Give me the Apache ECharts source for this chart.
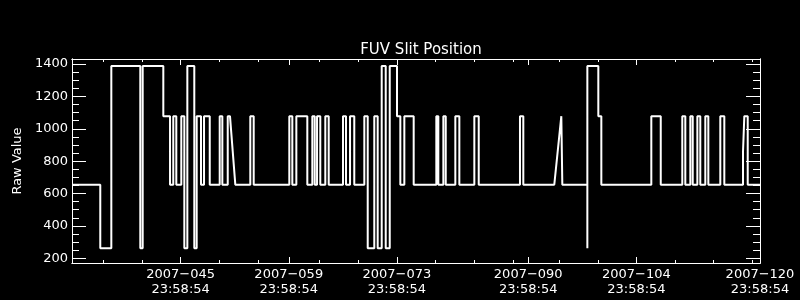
<!DOCTYPE html>
<html><head><meta charset="utf-8">
<script src="https://cdn.jsdelivr.net/npm/echarts@6/dist/echarts.min.js"></script>
<style>html,body{margin:0;padding:0;background:#000;}#c{width:800px;height:300px;}</style>
</head><body><div id="c"></div>
<script>
// Time in fractional day-of-year 2007, value = raw slit position
const days = [
31.94,35.60,35.60,37.03,37.03,40.78,40.78,41.09,41.09,43.76,43.76,44.63,44.63,45.05,45.05,45.44,45.44,46.09,46.09,46.48,
46.48,46.87,46.87,47.77,47.77,48.08,48.08,48.64,48.64,49.03,49.03,49.77,49.77,51.06,51.06,51.40,51.40,52.10,52.10,52.39,
53.08,55.02,55.02,55.46,55.46,60.07,60.07,60.46,60.46,60.98,60.98,62.40,62.40,63.05,63.05,63.36,63.36,63.66,63.66,64.08,
64.08,64.73,64.73,65.17,65.17,67.02,67.02,67.41,67.41,67.93,67.93,68.48,68.48,69.78,69.78,70.22,70.22,71.07,71.07,71.51,
71.51,72.03,72.03,72.55,72.55,73.07,73.07,74.01,74.01,74.44,74.44,74.96,74.96,76.17,76.17,79.10,79.10,79.36,79.36,80.01,
80.01,80.32,80.32,81.56,81.56,82.08,82.08,84.02,84.02,84.59,84.59,89.93,89.93,90.36,90.36,94.37,95.28,95.41,95.41,98.65,
98.65,98.65,100.07,100.07,100.46,100.46,106.93,106.93,108.15,108.15,110.94,110.94,111.33,111.33,111.98,111.98,112.29,112.29,112.89,112.89,
113.27,113.27,113.92,113.92,114.31,114.31,115.86,115.86,116.38,116.38,118.80,118.80,118.97,118.97,119.41,119.41,120.999
];
const rawValues = [
655,655,262,262,1388,1388,262,262,1388,1388,1078,1078,655,655,1078,1078,655,655,1078,1078,
262,262,1388,1388,262,262,1078,1078,655,655,1078,1078,655,655,1078,1078,655,655,1078,1078,
655,655,1078,1078,655,655,1078,1078,655,655,1078,1078,655,655,1078,1078,655,655,1078,1078,
655,655,1078,1078,655,655,1078,1078,655,655,1078,1078,655,655,1078,1078,262,262,1078,1078,
262,262,1388,1388,262,262,1388,1388,1078,1078,655,655,1078,1078,655,655,1078,1078,655,655,
1078,1078,655,655,1078,1078,655,655,1078,1078,655,655,1078,1078,655,655,1078,1078,655,655,
262,1388,1388,1078,1078,655,655,1078,1078,655,655,1078,1078,655,655,1078,1078,655,655,1078,
1078,655,655,1078,1078,655,655,1078,1078,655,655,858,858,1078,1078,655,655
];
const xMajorTicks = [45.999, 59.999, 73.999, 90.999, 104.999, 120.999];
const xTickLabels = ['2007\u2212045\n23:58:54','2007\u2212059\n23:58:54','2007\u2212073\n23:58:54','2007\u2212090\n23:58:54','2007\u2212104\n23:58:54','2007\u2212120\n23:58:54'];
const xMinorTicks = [35.999,40.999,50.999,55.999,63.999,68.999,78.999,83.999,88.999,94.999,99.999,109.999,114.999,119.999];
const yMajorTicks = [200,400,600,800,1000,1200,1400];
const yMinorTicks = [250,300,350,450,500,550,650,700,750,850,900,950,1050,1100,1150,1250,1300,1350];
const X_MIN = 31.94, X_MAX = 120.999, Y_MIN = 171, Y_MAX = 1431;

const FONT = 'DejaVu Sans';
const W = '#ffffff';
function xAx(pos, ticks, len, labels) {
  return {
    type: 'value', position: pos, min: X_MIN, max: X_MAX,
    axisLine: { show: true, onZero: false, lineStyle: { color: W, width: 1 } },
    axisTick: { show: true, inside: true, length: len, customValues: ticks, lineStyle: { color: W, width: 1 } },
    axisLabel: labels ? {
      show: true, customValues: ticks, color: W, fontFamily: FONT, fontSize: 13, lineHeight: 15, margin: 4,
      formatter: v => { const i = xMajorTicks.findIndex(t => Math.abs(t - v) < 1e-6); return i >= 0 ? xTickLabels[i] : ''; }
    } : { show: false },
    splitLine: { show: false }
  };
}
function yAx(pos, ticks, len, labels, name) {
  return {
    type: 'value', position: pos, min: Y_MIN, max: Y_MAX,
    name: name || '', nameLocation: 'middle', nameRotate: 90, nameGap: 46,
    nameTextStyle: { color: W, fontFamily: FONT, fontSize: 13 },
    axisLine: { show: true, onZero: false, lineStyle: { color: W, width: 1 } },
    axisTick: { show: true, inside: true, length: len, customValues: ticks, lineStyle: { color: W, width: 1 } },
    axisLabel: labels ? { show: true, customValues: ticks, color: W, fontFamily: FONT, fontSize: 13, margin: 4,
      formatter: v => String(v) } : { show: false },
    splitLine: { show: false }
  };
}
const chart = echarts.init(document.getElementById('c'), null, { renderer: 'canvas' });
chart.setOption({
  backgroundColor: '#000',
  animation: false,
  title: { text: 'FUV Slit Position', left: 416, textAlign: 'center', top: 38,
    textStyle: { color: W, fontFamily: FONT, fontSize: 15, fontWeight: 'normal' } },
  grid: { left: 72, right: 40, top: 59, bottom: 37, containLabel: false },
  xAxis: [ xAx('bottom', xMajorTicks, 6, true), xAx('bottom', xMinorTicks, 3, false),
           xAx('top', xMajorTicks, 6, false), xAx('top', xMinorTicks, 3, false) ],
  yAxis: [ yAx('left', yMajorTicks, 14, true, 'Raw Value'), yAx('left', yMinorTicks, 7, false),
           yAx('right', yMajorTicks, 14, false), yAx('right', yMinorTicks, 7, false) ],
  series: [{
    type: 'line', xAxisIndex: 0, yAxisIndex: 0, symbol: 'none', showSymbol: false,
    data: days.map((d, i) => [d, rawValues[i]]),
    lineStyle: { color: W, width: 2 }, clip: true
  }]
});
</script></body></html>
